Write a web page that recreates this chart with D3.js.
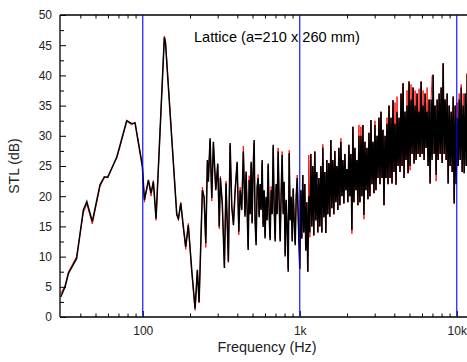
<!DOCTYPE html>
<html>
<head>
<meta charset="utf-8">
<script src="https://cdn.jsdelivr.net/npm/d3@7"></script>
<style>
  html, body { margin: 0; padding: 0; background: #fff; }
  svg { display: block; font-family: "Liberation Sans", Arial, sans-serif; }
</style>
</head>
<body>
<svg id="chart" width="467" height="362"></svg>
<script>
// ---------------- DATA ----------------
const chartTitle = "Lattice (a=210 x 260 mm)";
const xLabel = "Frequency (Hz)";
const yLabel = "STL (dB)";
const xDomain = [29.7, 12000];
const yDomain = [0, 50];
const xMajorTicks = [100, 1000, 10000];
const xMajorLabels = ["100", "1k", "10k"];
const xMinorTicks = [40, 50, 60, 70, 80, 90, 200, 300, 400, 500, 600, 700, 800, 900,
                     2000, 3000, 4000, 5000, 6000, 7000, 8000, 9000];
const yMajorTicks = [0, 5, 10, 15, 20, 25, 30, 35, 40, 45, 50];
const yMinorTicks = [2.5, 7.5, 12.5, 17.5, 22.5, 27.5, 32.5, 37.5, 42.5, 47.5];
const refLines = [100, 1000, 10000];

// low / mid frequency part (explicit frequency points, Hz)
const lfFreq = [30, 32, 33.6, 37.9, 41.8, 44, 47.7, 53.4, 56.9, 59.8,
  68.3, 71.7, 79, 85, 89.3, 99.4, 102.4, 108.6, 112.9, 116.8,
  121.5, 137.2, 139.5, 164.6, 168.6, 174.6, 181.2, 187.7, 195, 205,
  215.3, 222.7, 228.4, 239.7, 245.7, 252, 257.9, 261.7, 268.4, 275.1,
  281.7, 291.7, 300.4, 307, 312, 321, 331, 339, 351, 360,
  369, 378, 387, 399, 409, 417, 427, 437,
  448, 455, 462, 469, 476, 483, 490, 497, 504, 512,
  519, 527, 535, 543, 551, 559, 567, 576, 584, 593,
  601, 610, 619, 629, 638, 647, 657, 667, 677, 687,
  697, 707, 717, 728, 739, 750, 761, 772, 784, 795,
  807, 819, 831, 844, 856, 869, 882, 895, 908, 921,
  935, 949, 963, 977];
const lfBlack = [3.3, 5.0, 7.2, 9.7, 17.7, 19.1, 15.8, 21.9, 23.2, 23.1,
  26.5, 28.5, 32.5, 32.0, 32.1, 24.9, 19.4, 22.7, 20.5, 22.4,
  16.3, 46.3, 45.4, 16.9, 16.3, 18.8, 15.0, 11.6, 15.2, 7.8,
  1.4, 7.8, 2.5, 21.0, 19.9, 12.2, 26.0, 22.4, 29.6, 19.7,
  29.0, 21.0, 25.4, 15.0, 23.0, 18.8, 8.1, 22.1, 9.2, 28.8,
  18.3, 15.2, 20.5, 25.7, 14.1, 21.0, 17.7, 27.4,
  16.6, 24.1, 17.7, 11.1, 22.7, 17.0, 25.7, 15.5, 24.0, 29.3,
  16.0, 11.9, 21.6, 23.0, 16.5, 22.0, 17.7, 26.0, 14.9, 21.0,
  13.0, 19.9, 16.0, 25.4, 17.0, 12.7, 21.0, 17.0, 28.5, 18.0,
  12.5, 22.0, 17.0, 27.4, 19.0, 12.5, 20.5, 26.8, 17.0, 22.4,
  10.0, 19.4, 15.0, 7.5, 27.1, 16.0, 19.9, 12.5, 21.3, 16.0,
  11.9, 20.0, 23.0, 16.6];
const lfRed = [3.9, 5.2, 7.5, 10.0, 17.2, 18.7, 15.4, 21.6, 23.0, 23.3,
  26.3, 28.2, 32.4, 31.8, 32.3, 25.2, 19.0, 22.5, 20.0, 22.6,
  16.0, 46.5, 45.8, 17.2, 16.0, 19.0, 14.8, 11.2, 15.5, 7.6,
  1.1, 7.6, 2.3, 21.5, 19.6, 11.5, 25.6, 22.8, 29.3, 19.2,
  28.6, 21.3, 25.0, 14.6, 23.3, 18.5, 8.6, 22.5, 9.0, 28.5,
  18.0, 15.6, 21.2, 25.4, 13.6, 21.5, 17.9, 28.3,
  16.9, 23.6, 17.9, 11.6, 23.4, 17.3, 25.3, 15.9, 23.6, 28.8,
  16.4, 12.4, 21.2, 23.6, 16.9, 21.6, 18.0, 25.6, 15.3, 20.6,
  13.4, 19.5, 16.4, 25.0, 17.3, 13.1, 21.6, 17.3, 28.1, 18.3,
  12.9, 21.6, 17.3, 28.0, 19.3, 12.9, 20.2, 27.4, 17.3, 22.0,
  10.4, 19.0, 15.3, 8.0, 27.6, 16.3, 19.5, 12.9, 21.0, 16.3,
  12.3, 19.6, 23.5, 16.9];

// high frequency part: values on a log-spaced grid from hfStart to hfEnd (Hz)
const hfStart = 1000, hfEnd = 12000;
const hfBlack = [
  8, 21, 13, 23.5, 14, 22, 11, 19, 7.5, 20,
  14, 27, 15, 25, 13.5, 27.4, 16, 24, 14, 23,
  15, 25, 14, 28, 16.5, 24, 13.9, 26, 17, 25.5,
  16.6, 29.3, 18, 26, 17, 27.5, 19, 25, 17.7, 28,
  18.5, 29, 20, 26, 18.8, 27, 21, 24.5, 19, 28.5,
  20, 27, 14.4, 31.5, 19, 28, 21, 26, 18.5, 30,
  19, 30, 20, 31.8, 16.9, 29, 21, 28, 19.5, 30.5,
  20, 32.6, 22, 29, 20.5, 31.8, 21, 30, 23, 33,
  22, 34, 23, 31, 18.5, 30, 23, 32, 22, 35,
  23, 33, 22.1, 35.9, 24, 32, 21.9, 34, 25, 33,
  24, 37, 25, 38.7, 23, 34, 26, 35, 23.8, 39,
  25, 36, 27, 38, 25.4, 35, 26, 37, 27, 34,
  26.5, 39, 27, 35, 26, 37, 28, 34, 25, 36,
  22.1, 36, 26, 40.1, 27, 35, 23.5, 36, 26, 37,
  27, 38, 25.5, 42, 27, 36, 26, 37, 22.1, 35,
  25, 34, 24, 36.5, 18.8, 35, 22, 33, 25, 36,
  26, 38, 24, 35, 23.8, 37, 25, 40.3, 26, 36];
const hfRed = [
  8, 21, 13, 23.5, 14, 22, 11, 19, 7.5, 26.8,
  13.2, 27, 15, 25, 13.5, 27.4, 16, 24, 14, 23,
  15, 25, 14, 28.6, 16.5, 24, 13.9, 26, 17, 25.5,
  16.6, 29.3, 18, 26, 17, 27.5, 19, 25, 17.7, 28,
  18.5, 29.6, 20, 26, 18.8, 27, 21, 24.5, 19, 28.5,
  20, 27, 13.8, 31.5, 19, 28, 21, 26, 18.5, 31.8,
  19, 31.5, 20, 31.8, 16.2, 29, 21, 28, 19.5, 30.5,
  20, 32.6, 22, 29, 20.5, 32.5, 21, 30, 23, 33,
  22, 34, 23, 31, 18.5, 30, 23, 33, 22, 35,
  23, 33, 22.1, 35.9, 24, 35.5, 21.9, 36.5, 25, 33,
  24, 37, 25, 38.7, 23, 34, 26, 37.5, 23.8, 39,
  24.3, 38.5, 27, 38, 25.4, 37.5, 26, 37, 27, 37.8,
  26.5, 39, 27, 37.5, 26, 37, 28, 38, 25, 36,
  22.1, 36, 40, 40.1, 27, 35, 22.5, 36, 26, 37,
  27, 38, 25.5, 42, 27, 36, 26, 37, 22.1, 35,
  25, 34, 24, 36.5, 18.8, 35, 22, 35.5, 25, 37,
  26, 38.5, 24, 37, 23.8, 37, 25, 40.3, 26, 38];

// ---------------- CHART ----------------
const plot = { left: 60, top: 15, bottom: 317, decadePx: 157 };
const plotRight = plot.left + plot.decadePx * Math.log10(xDomain[1] / xDomain[0]);

const svg = d3.select("#chart");
const x = d3.scaleLog().domain(xDomain).range([plot.left, plotRight]);
const y = d3.scaleLinear().domain(yDomain).range([plot.bottom, plot.top]);

function buildSeries(lfVals, hfVals) {
  const pts = lfFreq.map((f, i) => [f, lfVals[i]]);
  const n = hfVals.length;
  const step = Math.log10(hfEnd / hfStart) / (n - 1);
  hfVals.forEach((v, i) => pts.push([hfStart * Math.pow(10, i * step), v]));
  return pts;
}
const redSeries = buildSeries(lfRed, hfRed);
const blackSeries = buildSeries(lfBlack, hfBlack);

svg.append("defs").append("clipPath").attr("id", "clip")
  .append("rect").attr("x", plot.left).attr("y", plot.top)
  .attr("width", plotRight - plot.left).attr("height", plot.bottom - plot.top);

const line = d3.line().x(d => x(d[0])).y(d => y(d[1]));
const gData = svg.append("g").attr("clip-path", "url(#clip)");
gData.append("path").datum(redSeries).attr("d", line)
  .attr("fill", "none").attr("stroke", "#ff0000").attr("stroke-width", 0.9);
gData.append("path").datum(blackSeries).attr("d", line)
  .attr("fill", "none").attr("stroke", "#000000").attr("stroke-width", 1.5);

// title text
svg.append("text").attr("x", 194).attr("y", 42)
  .attr("font-size", 14.6).attr("fill", "#000").text(chartTitle);

// axes
function styleAxis(g) {
  g.selectAll(".domain").remove();
  g.selectAll(".tick line").attr("stroke", "#000").attr("stroke-width", 1);
  g.selectAll(".tick text").attr("fill", "#222").attr("font-size", 12)
    .attr("font-family", "'Liberation Sans', Arial, sans-serif");
}
svg.append("g").attr("transform", `translate(0,${plot.bottom})`)
  .call(d3.axisBottom(x).tickValues(xMajorTicks).tickFormat((d, i) => xMajorLabels[i])
    .tickSize(-6).tickSizeOuter(0).tickPadding(9)).call(styleAxis);
svg.append("g").attr("transform", `translate(0,${plot.bottom})`)
  .call(d3.axisBottom(x).tickValues(xMinorTicks).tickFormat("")
    .tickSize(-3.5).tickSizeOuter(0)).call(styleAxis);
svg.append("g").attr("transform", `translate(0,${plot.top})`)
  .call(d3.axisTop(x).tickValues(xMinorTicks).tickFormat("")
    .tickSize(-3.5).tickSizeOuter(0)).call(styleAxis);
svg.append("g").attr("transform", `translate(${plot.left},0)`)
  .call(d3.axisLeft(y).tickValues(yMajorTicks).tickFormat(d3.format("d"))
    .tickSize(-6).tickSizeOuter(0).tickPadding(8)).call(styleAxis);
svg.append("g").attr("transform", `translate(${plot.left},0)`)
  .call(d3.axisLeft(y).tickValues(yMinorTicks).tickFormat("")
    .tickSize(-4).tickSizeOuter(0)).call(styleAxis);

// frame
const frame = svg.append("g").attr("stroke", "#000").attr("stroke-width", 1.3).attr("fill", "none");
frame.append("line").attr("x1", plot.left).attr("x2", plotRight).attr("y1", plot.top).attr("y2", plot.top);
frame.append("line").attr("x1", plot.left).attr("x2", plotRight).attr("y1", plot.bottom).attr("y2", plot.bottom);
frame.append("line").attr("x1", plot.left).attr("x2", plot.left).attr("y1", plot.top).attr("y2", plot.bottom);
frame.append("line").attr("x1", plotRight).attr("x2", plotRight).attr("y1", plot.top).attr("y2", plot.bottom);

// reference lines (drawn on top)
svg.append("g").selectAll("line").data(refLines).join("line")
  .attr("x1", d => x(d)).attr("x2", d => x(d))
  .attr("y1", plot.top).attr("y2", plot.bottom - 0.7)
  .attr("stroke", "#0000ff").attr("stroke-width", 1.1);

// axis titles
svg.append("text").attr("x", 267).attr("y", 352)
  .attr("text-anchor", "middle").attr("font-size", 14.4).attr("fill", "#222").text(xLabel);
svg.append("text").attr("transform", `translate(19,${(plot.top + plot.bottom) / 2}) rotate(-90)`)
  .attr("text-anchor", "middle").attr("font-size", 14).attr("fill", "#222").text(yLabel);
</script>
</body>
</html>
